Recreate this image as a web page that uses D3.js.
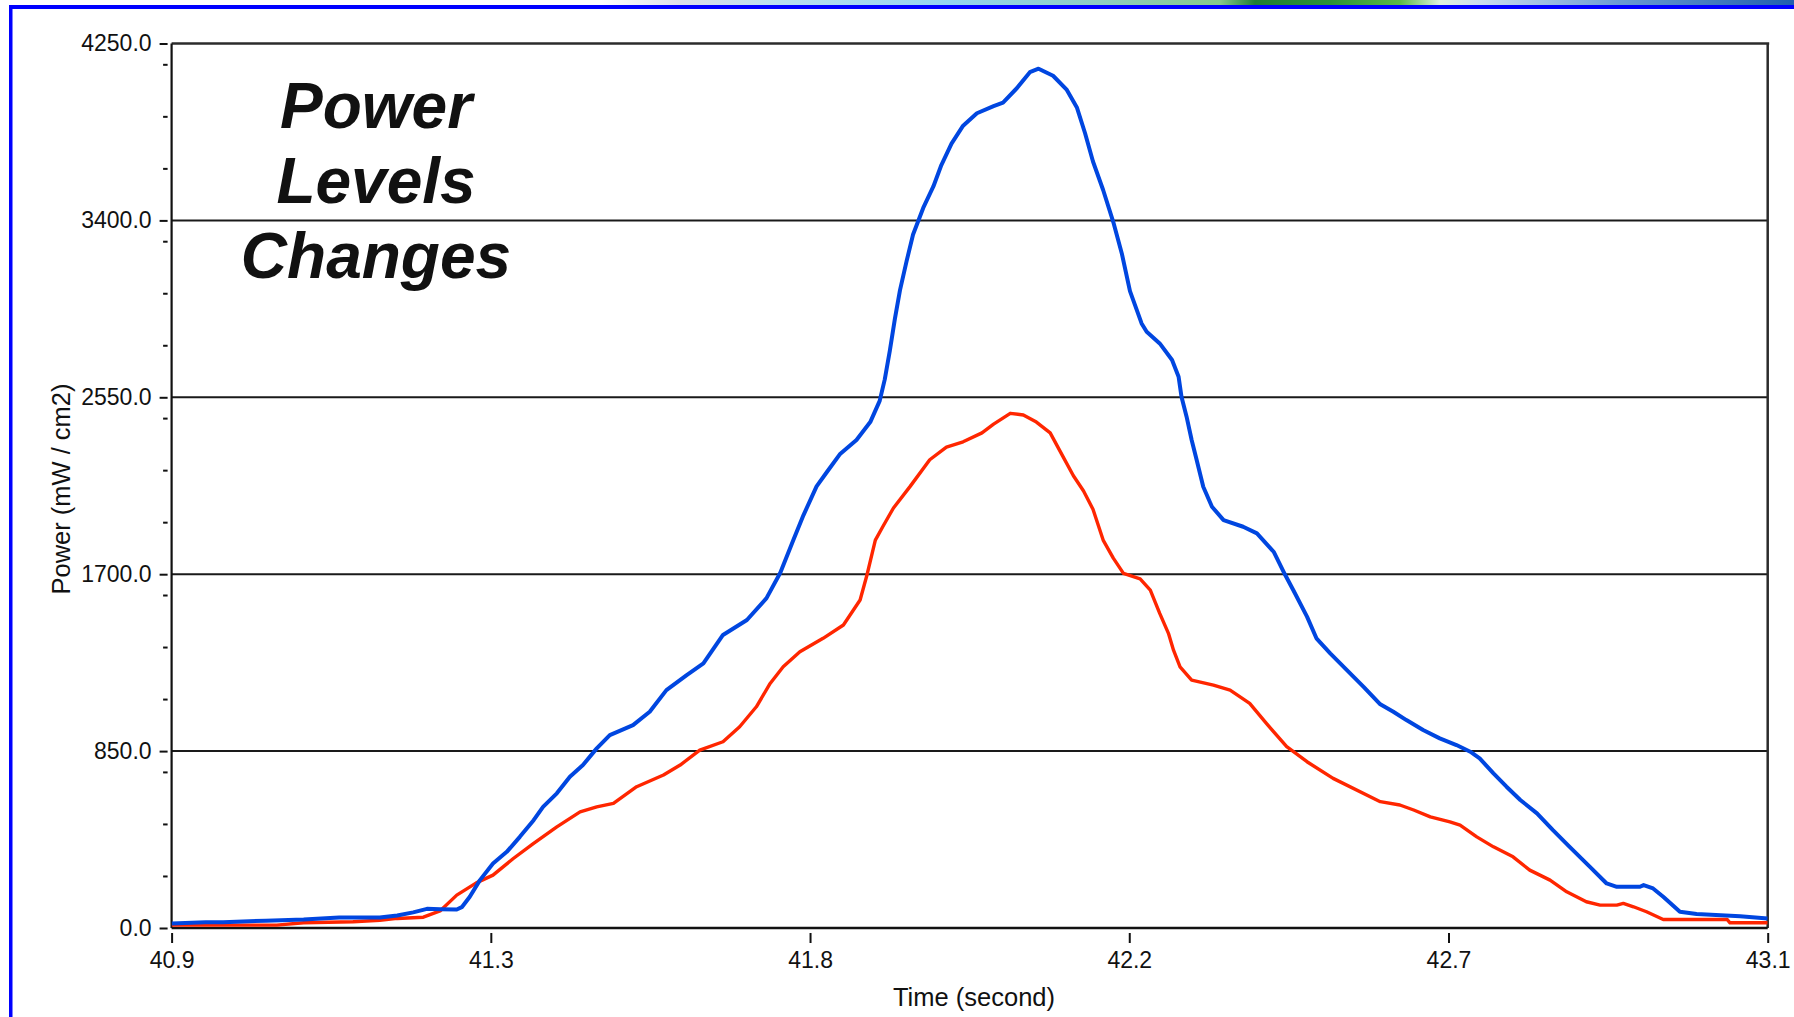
<!DOCTYPE html>
<html>
<head>
<meta charset="utf-8">
<script src="https://cdn.jsdelivr.net/npm/d3@7"></script>
<style>
  html, body { margin: 0; padding: 0; background: #fff; }
  svg { display: block; }
  text { font-family: "Liberation Sans", Arial, sans-serif; fill: #111; }
</style>
</head>
<body>
<svg id="chart" width="1794" height="1017"></svg>
<script>
// Sampled power traces (time in seconds, power in mW / cm2)
const blueTime = [40.900, 40.947, 40.971, 41.030, 41.082, 41.131, 41.187, 41.211, 41.233, 41.252, 41.270, 41.293, 41.300, 41.311, 41.325, 41.343, 41.362, 41.380, 41.399, 41.412, 41.431, 41.449, 41.467, 41.486, 41.504, 41.536, 41.559, 41.582, 41.610, 41.633, 41.660, 41.693, 41.720, 41.739, 41.757, 41.771, 41.789, 41.803, 41.821, 41.844, 41.863, 41.876, 41.883, 41.890, 41.897, 41.904, 41.913, 41.922, 41.936, 41.950, 41.961, 41.975, 41.991, 42.010, 42.033, 42.046, 42.065, 42.083, 42.095, 42.115, 42.134, 42.148, 42.159, 42.170, 42.184, 42.198, 42.210, 42.221, 42.237, 42.244, 42.262, 42.279, 42.288, 42.292, 42.299, 42.306, 42.313, 42.322, 42.334, 42.350, 42.377, 42.396, 42.419, 42.435, 42.446, 42.465, 42.478, 42.497, 42.520, 42.543, 42.566, 42.584, 42.602, 42.625, 42.648, 42.671, 42.690, 42.703, 42.722, 42.740, 42.759, 42.782, 42.804, 42.827, 42.855, 42.878, 42.892, 42.924, 42.929, 42.942, 42.956, 42.979, 43.002, 43.062, 43.100];
const bluePower = [22, 28, 28, 35, 41, 51, 50, 60, 75, 92, 90, 89, 100, 150, 230, 310, 366, 438, 518, 582, 647, 727, 783, 863, 927, 975, 1039, 1143, 1215, 1271, 1408, 1480, 1585, 1707, 1864, 1984, 2122, 2190, 2276, 2345, 2431, 2533, 2636, 2774, 2928, 3065, 3203, 3332, 3460, 3563, 3666, 3769, 3855, 3915, 3949, 3966, 4035, 4112, 4129, 4095, 4027, 3941, 3820, 3683, 3546, 3392, 3237, 3060, 2905, 2865, 2809, 2729, 2649, 2553, 2457, 2345, 2248, 2120, 2024, 1960, 1928, 1896, 1808, 1696, 1624, 1496, 1392, 1320, 1239, 1159, 1075, 1039, 999, 951, 911, 879, 847, 815, 743, 679, 615, 551, 470, 390, 294, 214, 198, 198, 206, 190, 150, 78, 67, 57, 46];

const redTime = [40.900, 40.971, 41.045, 41.082, 41.150, 41.187, 41.211, 41.247, 41.270, 41.293, 41.320, 41.343, 41.371, 41.399, 41.431, 41.463, 41.486, 41.509, 41.541, 41.578, 41.601, 41.628, 41.660, 41.683, 41.706, 41.725, 41.743, 41.766, 41.798, 41.826, 41.849, 41.858, 41.870, 41.881, 41.895, 41.918, 41.945, 41.968, 41.991, 42.017, 42.033, 42.056, 42.074, 42.092, 42.111, 42.127, 42.143, 42.157, 42.170, 42.184, 42.198, 42.212, 42.235, 42.249, 42.262, 42.274, 42.281, 42.290, 42.306, 42.336, 42.359, 42.386, 42.409, 42.437, 42.465, 42.501, 42.566, 42.593, 42.612, 42.635, 42.662, 42.676, 42.699, 42.722, 42.749, 42.772, 42.800, 42.823, 42.850, 42.869, 42.892, 42.901, 42.915, 42.933, 42.956, 43.044, 43.048, 43.100];
const redPower = [14, 14, 14, 25, 30, 37, 46, 52, 82, 158, 217, 254, 334, 407, 486, 558, 582, 599, 679, 735, 783, 855, 895, 967, 1063, 1175, 1255, 1327, 1392, 1456, 1576, 1690, 1864, 1933, 2018, 2122, 2250, 2311, 2336, 2379, 2421, 2473, 2465, 2431, 2379, 2276, 2173, 2100, 2012, 1864, 1777, 1704, 1678, 1624, 1512, 1416, 1335, 1255, 1191, 1167, 1143, 1079, 983, 871, 799, 719, 607, 591, 567, 534, 510, 494, 438, 390, 342, 278, 230, 174, 126, 110, 110, 118, 102, 78, 41, 41, 25, 25];

// Axis ticks
const xTicks = [40.9, 41.34, 41.78, 42.22, 42.66, 43.1];
const xTickLabels = ["40.9", "41.3", "41.8", "42.2", "42.7", "43.1"];
const yTicks = [0, 850, 1700, 2550, 3400, 4250];
const yMinorTicks = [250, 500, 750, 1100, 1350, 1600, 1950, 2200, 2450, 2800, 3050, 3300, 3650, 3900, 4150];
const yGridValues = [850, 1700, 2550, 3400];

const titleLines = ["Power", "Levels", "Changes"];
const xTitle = "Time (second)";
const yTitle = "Power (mW / cm2)";

const svg = d3.select("#chart");
const W = 1794, H = 1017;
const plot = { left: 171.6, right: 1767.7, top: 43.5, bottom: 928 };

svg.append("rect").attr("width", W).attr("height", H).attr("fill", "#fff");

// Slide decoration: coloured band and blue frame
const defs = svg.append("defs");
const band = defs.append("linearGradient").attr("id", "band")
  .attr("gradientUnits", "userSpaceOnUse")
  .attr("x1", 0).attr("x2", W).attr("y1", 0).attr("y2", 0);
[
  [0, "#ffffff"], [600, "#ffffff"], [680, "#dcdfea"], [780, "#b9def0"],
  [950, "#93d3f1"], [1100, "#8fcdc2"], [1220, "#86c98a"], [1255, "#1f7d34"],
  [1330, "#2b9238"], [1400, "#5bb946"], [1440, "#dff1de"], [1480, "#c9dcef"],
  [1620, "#6a9ad4"], [1794, "#1f5fae"]
].forEach(([o, c]) => band.append("stop").attr("offset", o / W).attr("stop-color", c));
svg.append("rect").attr("x", 0).attr("y", 0).attr("width", W).attr("height", 5).attr("fill", "url(#band)");
svg.append("rect").attr("x", 9).attr("y", 5).attr("width", W - 9).attr("height", 4).attr("fill", "#0000ff");
svg.append("rect").attr("x", 9).attr("y", 5).attr("width", 3.5).attr("height", H - 5).attr("fill", "#0000ff");

// Scales
const x = d3.scaleLinear().domain([40.9, 43.1]).range([plot.left, plot.right]);
const y = d3.scaleLinear().domain([0, 4250]).range([plot.bottom, plot.top]);

// Horizontal grid lines
svg.append("g").selectAll("line").data(yGridValues).join("line")
  .attr("x1", plot.left).attr("x2", plot.right)
  .attr("y1", d => y(d)).attr("y2", d => y(d))
  .attr("stroke", "#1a1a1a").attr("stroke-width", 2);

// Y axis: major ticks with labels, and minor ticks
const yAxisG = svg.append("g").attr("transform", `translate(${plot.left - 4},0)`)
  .call(d3.axisLeft(y).tickValues(yTicks).tickFormat(d3.format(".1f"))
    .tickSize(8).tickSizeOuter(0).tickPadding(8));
yAxisG.select(".domain").remove();
yAxisG.selectAll(".tick line").attr("stroke", "#111").attr("stroke-width", 2);
yAxisG.selectAll(".tick text").attr("font-size", 23).attr("fill", "#111")
  .attr("font-family", "'Liberation Sans', Arial, sans-serif");

const yMinorG = svg.append("g").attr("transform", `translate(${plot.left - 4},0)`)
  .call(d3.axisLeft(y).tickValues(yMinorTicks).tickFormat("").tickSize(4.5).tickSizeOuter(0));
yMinorG.select(".domain").remove();
yMinorG.selectAll(".tick line").attr("stroke", "#111").attr("stroke-width", 2);

// X axis
const xAxisG = svg.append("g").attr("transform", `translate(0,${plot.bottom + 5})`)
  .call(d3.axisBottom(x).tickValues(xTicks).tickFormat((d, i) => xTickLabels[i])
    .tickSize(10).tickSizeOuter(0));
xAxisG.select(".domain").remove();
xAxisG.selectAll(".tick line").attr("stroke", "#111").attr("stroke-width", 2);
xAxisG.selectAll(".tick text").attr("font-size", 23).attr("fill", "#111")
  .attr("font-family", "'Liberation Sans', Arial, sans-serif")
  .attr("y", 35).attr("dy", 0);

// Plot frame
svg.append("line").attr("x1", plot.left).attr("x2", plot.right + 1.5)
  .attr("y1", plot.top).attr("y2", plot.top).attr("stroke", "#2b2b2b").attr("stroke-width", 2.5);
svg.append("line").attr("x1", plot.right).attr("x2", plot.right)
  .attr("y1", plot.top).attr("y2", plot.bottom).attr("stroke", "#2b2b2b").attr("stroke-width", 2.5);
svg.append("line").attr("x1", plot.left).attr("x2", plot.right)
  .attr("y1", plot.bottom).attr("y2", plot.bottom).attr("stroke", "#111").attr("stroke-width", 2.5);
svg.append("line").attr("x1", plot.left).attr("x2", plot.left)
  .attr("y1", plot.top).attr("y2", plot.bottom).attr("stroke", "#111").attr("stroke-width", 2.2);

// Traces
defs.append("clipPath").attr("id", "plotClip").append("rect")
  .attr("x", plot.left).attr("y", plot.top)
  .attr("width", plot.right - plot.left).attr("height", plot.bottom - plot.top);

const line = d3.line().x(d => x(d[0])).y(d => y(d[1])).curve(d3.curveLinear);
const traces = svg.append("g").attr("clip-path", "url(#plotClip)");
traces.append("path").datum(d3.zip(redTime, redPower))
  .attr("d", line).attr("fill", "none").attr("stroke", "#ff2600")
  .attr("stroke-width", 3.4).attr("stroke-linejoin", "round");
traces.append("path").datum(d3.zip(blueTime, bluePower))
  .attr("d", line).attr("fill", "none").attr("stroke", "#0046e0")
  .attr("stroke-width", 4).attr("stroke-linejoin", "round");

// Title block inside the plot
svg.append("g").selectAll("text").data(titleLines).join("text")
  .attr("x", 376).attr("y", (d, i) => 128 + i * 75)
  .attr("text-anchor", "middle")
  .attr("font-size", 64).attr("font-weight", "bold").attr("font-style", "italic")
  .attr("fill", "#000")
  .text(d => d);

// Axis titles
svg.append("text").attr("x", 974).attr("y", 1006)
  .attr("text-anchor", "middle").attr("font-size", 25.5).text(xTitle);
svg.append("text").attr("transform", "translate(70,489) rotate(-90)")
  .attr("text-anchor", "middle").attr("font-size", 25.5).text(yTitle);
</script>
</body>
</html>
